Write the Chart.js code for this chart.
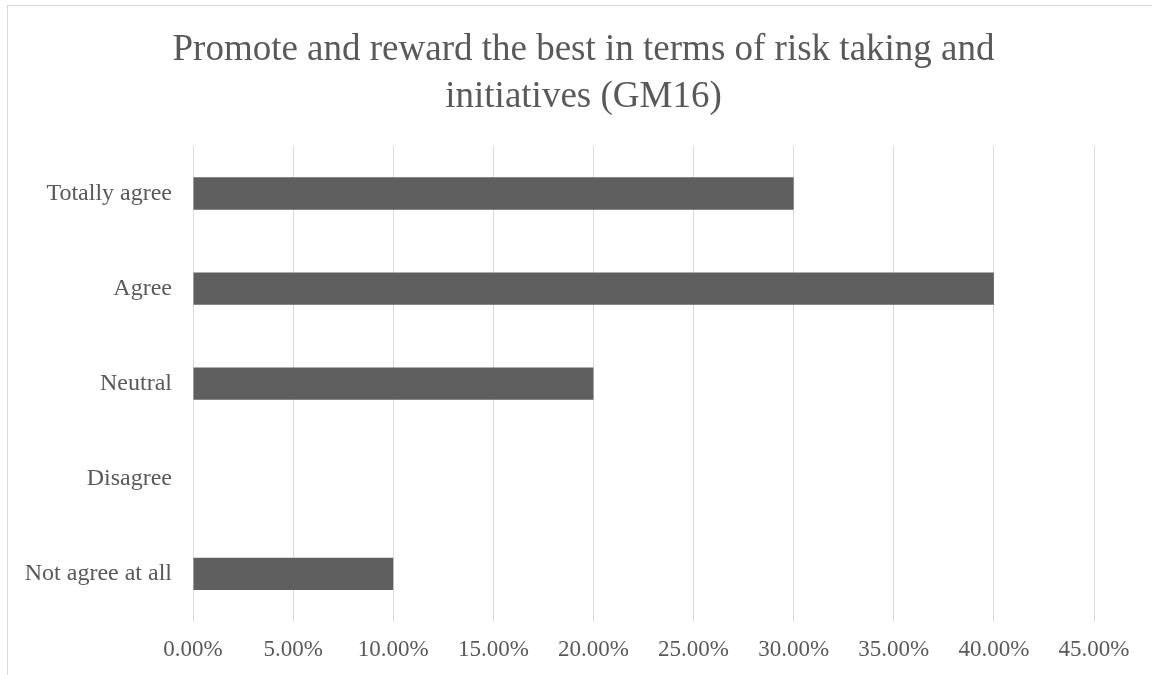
<!DOCTYPE html>
<html>
<head>
<meta charset="utf-8">
<script src="https://cdn.jsdelivr.net/npm/chart.js@4/dist/chart.umd.min.js"></script>
<style>
  body { margin: 0; background: #fff; overflow: hidden; }
  .wrap { position: relative; width: 1152px; height: 675px; }
  .frame { position: absolute; left: 7px; top: 5px; width: 1200px; height: 720px; border: 1px solid #d9d9d9; }
  canvas { position: absolute; left: 0; top: 0; }
</style>
</head>
<body>
<div class="wrap">
  <div class="frame"></div>
  <canvas class="graph" width="1152" height="675"></canvas>
</div>
<script>
const categories = ["Totally agree", "Agree", "Neutral", "Disagree", "Not agree at all"];
const shares = [30, 40, 20, 0, 10];
const titleLines = ["Promote and reward the best in terms of risk taking and", "initiatives (GM16)"];

const textColor = "#595959";
const serif = "'Liberation Serif', 'Times New Roman', serif";

// the y axis is squeezed so the title stays centred; let its labels use the left margin
const labelRoom = {
  id: "labelRoom",
  afterLayout: (chart) => {
    chart.scales.y.left = 0;
  },
};

const graph = new Chart(document.querySelector(".graph"), {
  type: "bar",
  data: {
    labels: categories,
    datasets: [
      {
        label: "GM16",
        data: shares,
        backgroundColor: "#5f5f5f",
        borderWidth: 0,
        barPercentage: 0.34,
        categoryPercentage: 1,
      },
    ],
  },
  options: {
    indexAxis: "y",
    responsive: false,
    animation: false,
    layout: {
      padding: { left: 73, right: 58, top: 0, bottom: -4 },
    },
    plugins: {
      legend: { display: false },
      tooltip: { enabled: false },
      title: {
        display: true,
        text: titleLines,
        color: textColor,
        font: { family: serif, size: 37, weight: "normal", lineHeight: 1.27 },
        padding: { top: 27, bottom: 25 },
      },
    },
    scales: {
      x: {
        min: 0,
        max: 45,
        ticks: {
          stepSize: 5,
          color: textColor,
          padding: 15,
          font: { family: serif, size: 23 },
          callback: (v) => v.toFixed(2) + "%",
        },
        grid: { color: "#d9d9d9", lineWidth: 1, drawTicks: false },
        border: { display: false },
      },
      y: {
        afterFit: (scale) => {
          scale.width = 120;
        },
        ticks: {
          color: textColor,
          padding: 21,
          font: { family: serif, size: 24 },
        },
        grid: { display: false, drawTicks: false },
        border: { display: false },
      },
    },
  },
  plugins: [labelRoom],
});
</script>
</body>
</html>
